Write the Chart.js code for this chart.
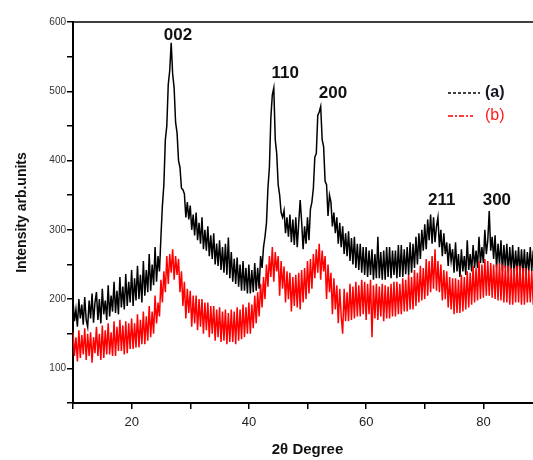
<!DOCTYPE html>
<html><head><meta charset="utf-8">
<script src="https://cdn.jsdelivr.net/npm/chart.js@4.4.0/dist/chart.umd.min.js"></script>
<style>html,body{margin:0;padding:0;overflow:hidden;background:#fff}#wrap{width:560px;height:460px}</style>
</head><body><div id="wrap"><canvas id="c" width="560" height="460"></canvas></div>
<script>
const twoTheta = [
10,10.25,10.5,10.75,11,11.25,11.5,11.75,12,12.25,12.5,12.75,13,13.25,13.5,13.75,14,14.25,14.5,14.75,
15,15.25,15.5,15.75,16,16.25,16.5,16.75,17,17.25,17.5,17.75,18,18.25,18.5,18.75,19,19.25,19.5,19.75,
20,20.25,20.5,20.75,21,21.25,21.5,21.75,22,22.25,22.5,22.75,23,23.25,23.5,23.75,24,24.25,24.5,24.75,
25,25.25,25.5,25.75,26,26.25,26.5,26.75,27,27.25,27.5,27.75,28,28.25,28.5,28.75,29,29.25,29.5,29.75,
30,30.25,30.5,30.75,31,31.25,31.5,31.75,32,32.25,32.5,32.75,33,33.25,33.5,33.75,34,34.25,34.5,34.75,
35,35.25,35.5,35.75,36,36.25,36.5,36.75,37,37.25,37.5,37.75,38,38.25,38.5,38.75,39,39.25,39.5,39.75,
40,40.25,40.5,40.75,41,41.25,41.5,41.75,42,42.25,42.5,42.75,43,43.25,43.5,43.75,44,44.25,44.5,44.75,
45,45.25,45.5,45.75,46,46.25,46.5,46.75,47,47.25,47.5,47.75,48,48.25,48.5,48.75,49,49.25,49.5,49.75,
50,50.25,50.5,50.75,51,51.25,51.5,51.75,52,52.25,52.5,52.75,53,53.25,53.5,53.75,54,54.25,54.5,54.75,
55,55.25,55.5,55.75,56,56.25,56.5,56.75,57,57.25,57.5,57.75,58,58.25,58.5,58.75,59,59.25,59.5,59.75,
60,60.25,60.5,60.75,61,61.25,61.5,61.75,62,62.25,62.5,62.75,63,63.25,63.5,63.75,64,64.25,64.5,64.75,
65,65.25,65.5,65.75,66,66.25,66.5,66.75,67,67.25,67.5,67.75,68,68.25,68.5,68.75,69,69.25,69.5,69.75,
70,70.25,70.5,70.75,71,71.25,71.5,71.75,72,72.25,72.5,72.75,73,73.25,73.5,73.75,74,74.25,74.5,74.75,
75,75.25,75.5,75.75,76,76.25,76.5,76.75,77,77.25,77.5,77.75,78,78.25,78.5,78.75,79,79.25,79.5,79.75,
80,80.25,80.5,80.75,81,81.25,81.5,81.75,82,82.25,82.5,82.75,83,83.25,83.5,83.75,84,84.25,84.5,84.75,
85,85.25,85.5,85.75,86,86.25,86.5,86.75,87,87.25,87.5,87.75,88,88.25,88.5,88.75,89,89.25,89.5,89.75,90];
const intensityA = [
198,168,185,160, 200,172,192,163, 203,170,160,198, 172,208,166,195, 210,170,200,165,
215,178,198,170, 220,175,205,182, 225,180,212,178, 232,188,218,185, 236,190,225,195,
242,190,230,198, 248,200,235,195, 255,205,242,210, 265,212,250,220, 275,225,262,240,
290,335,365,430, 450,510,530,570, 525,505,455,440, 400,390,360,358, 352,318,340,315,
335,300,322,292, 325,285,310,280, 318,272,300,270, 305,262,292,258, 295,250,280,248,
285,242,275,238, 280,235,289,230, 268,225,258,222, 260,218,250,212, 255,212,245,208,
250,208,242,210, 252,212,245,215, 262,245,275,290, 310,360,390,462, 495,505,430,410,
365,350,325,318, 328,295,318,290, 322,282,315,278, 318,275,310,343, 312,272,305,280,
318,285,330,340, 360,405,410,465, 470,478,430,420, 370,365,320,350, 340,305,325,295,
318,280,310,275, 305,265,295,262, 298,255,288,250, 290,245,280,242, 280,238,275,235,
275,232,270,235, 272,228,265,230, 290,230,268,228, 270,228,275,232, 275,230,270,235,
270,230,278,232, 278,232,272,236, 275,235,282,238, 280,245,290,250, 295,258,300,270,
308,272,315,285, 322,280,318,282, 305,318,275,300, 262,295,265,282, 248,280,255,272,
238,282,240,265, 232,272,240,262, 235,285,242,265, 240,278,245,270, 245,290,252,275,
252,300,265,285, 327,270,290,258, 292,245,280,250, 285,240,278,245, 280,238,275,242,
278,236,270,240, 275,235,272,238, 272,232,268,240, 275,240,270,236, 270,238,265,240, 262];
const intensityB = [
152,118,145,110, 155,115,148,120, 158,112,150,118, 152,108,145,122, 160,118,150,112,
162,115,155,120, 165,120,152,118, 168,118,160,125, 170,125,162,120, 168,122,165,128,
172,128,165,130, 178,130,170,135, 182,135,175,140, 190,145,182,150, 205,165,195,175,
228,195,240,210, 262,222,265,238, 272,228,262,235, 258,210,240,190, 225,172,215,180,
212,160,205,165, 205,155,200,160, 200,150,195,155, 195,145,190,150, 190,140,185,145,
188,138,182,140, 185,135,180,138, 185,138,182,135, 188,140,185,142, 192,145,188,150,
195,150,192,158, 205,165,210,175, 222,188,232,200, 250,218,262,232, 275,225,268,240,
262,205,255,215, 247,195,240,200, 238,182,232,190, 235,188,238,185, 242,195,245,200,
255,208,258,215, 265,230,272,238, 280,228,270,240, 262,200,250,210, 238,178,230,185,
220,165,215,175, 150,215,168,210, 168,222,170,218, 172,225,175,220, 175,228,178,225,
170,222,178,228, 145,220,172,222, 170,218,175,222, 168,220,172,218, 172,222,175,225,
175,225,178,222, 178,230,182,228, 182,235,185,232, 185,242,190,238, 195,248,198,245,
200,258,205,255, 210,262,215,272, 212,255,210,250, 198,242,200,240, 188,232,185,230,
178,230,180,228, 180,235,182,232, 185,240,188,238, 192,248,195,245, 198,255,200,250,
202,258,205,255, 205,252,202,250, 200,250,198,252, 198,250,195,248, 195,248,192,245,
192,245,195,248, 195,248,192,245, 192,245,195,242, 195,240,192,245, 195,242,198,240, 200];
const seriesNames = ['(a)', '(b)'];
const peakNames = ['002', '110', '200', '211', '300'];
const xTickLabels = [20, 40, 60, 80];
const yTickLabels = [100, 200, 300, 400, 500, 600];

const decor = {
  id: 'decor',
  afterDraw(chart, args, opts) {
    const {ctx, chartArea: a, scales: {x, y}} = chart;
    ctx.save();
    ctx.strokeStyle = '#000'; ctx.lineWidth = 1.5;
    ctx.beginPath(); ctx.moveTo(a.left, a.top); ctx.lineTo(a.right, a.top); ctx.stroke();
    ctx.fillStyle = '#111';
    ctx.font = 'bold 17px "Liberation Sans", Arial, sans-serif';
    ctx.textAlign = 'center'; ctx.textBaseline = 'middle';
    peakNames.forEach((t, i) => {
      const p = opts.anchors[i];
      ctx.fillText(t, x.getPixelForValue(p[0]), y.getPixelForValue(p[1]));
    });
    const L = opts.legend;
    chart.data.datasets.forEach((ds, i) => {
      const ly = L.y + i * L.gap;
      ctx.strokeStyle = ds.borderColor; ctx.lineWidth = 1.5;
      ctx.setLineDash(L.dash[i]);
      ctx.beginPath(); ctx.moveTo(L.x0, ly); ctx.lineTo(L.x1[i], ly); ctx.stroke();
      ctx.setLineDash([]);
      ctx.fillStyle = i === 0 ? '#151528' : '#ff1a1a';
      ctx.font = (i === 0 ? 'bold ' : '') + '16px "Liberation Sans", Arial, sans-serif';
      ctx.textAlign = 'left';
      ctx.fillText(ds.label, L.tx, ly);
    });
    ctx.restore();
  }
};

new Chart(document.getElementById('c'), {
  type: 'line',
  data: {
    datasets: [
      { label: seriesNames[0], data: twoTheta.map((v, i) => ({x: v, y: intensityA[i]})),
        borderColor: '#000000', borderWidth: 1.5, pointRadius: 0, tension: 0, order: 2 },
      { label: seriesNames[1], data: twoTheta.map((v, i) => ({x: v, y: intensityB[i]})),
        borderColor: '#ff0000', borderWidth: 1.5, pointRadius: 0, tension: 0, order: 1 }
    ]
  },
  options: {
    responsive: false, animation: false,
    layout: { padding: { left: 0, right: 18, top: 22, bottom: 0 } },
    plugins: {
      legend: { display: false }, tooltip: { enabled: false },
      decor: {
        anchors: [[27.9, 581], [46.2, 526], [54.35, 497], [72.9, 343], [82.3, 343]],
        legend: { x0: 448, x1: [480, 473], tx: 485, y: 93, gap: 23, dash: [[3, 2], [5, 2, 2, 2]] }
      }
    },
    scales: {
      x: {
        type: 'linear', min: 10, max: 90,
        afterFit: s => { s.height = 57; },
        border: { display: true, color: '#000', width: 2 },
        grid: { drawOnChartArea: false, drawTicks: true, tickLength: 6, color: '#000', lineWidth: 1.5 },
        ticks: { stepSize: 10, autoSkip: false, maxRotation: 0, padding: 6, color: '#222',
          font: { size: 13, family: '"Liberation Sans", Arial, sans-serif' },
          callback: v => xTickLabels.includes(v) ? String(v) : '' },
        title: { display: true, text: '2θ Degree', color: '#111',
          font: { size: 15, weight: 'bold', family: '"Liberation Sans", Arial, sans-serif', lineHeight: 1 },
          padding: { top: 0, bottom: 3 } }
      },
      y: {
        min: 50, max: 600,
        afterFit: s => { s.width = 73; },
        border: { display: true, color: '#000', width: 2 },
        grid: { drawOnChartArea: false, drawTicks: true, tickLength: 6, color: '#000', lineWidth: 1.5 },
        ticks: { stepSize: 50, autoSkip: false, padding: 1, color: '#333',
          font: { size: 10, family: '"Liberation Sans", Arial, sans-serif' },
          callback: v => yTickLabels.includes(v) ? String(v) : '' },
        title: { display: true, text: 'Intensity arb.units', color: '#111',
          font: { size: 14, weight: 'bold', family: '"Liberation Sans", Arial, sans-serif', lineHeight: 1 },
          padding: { top: 15, bottom: 0 } }
      }
    }
  },
  plugins: [decor]
});
</script></body></html>
